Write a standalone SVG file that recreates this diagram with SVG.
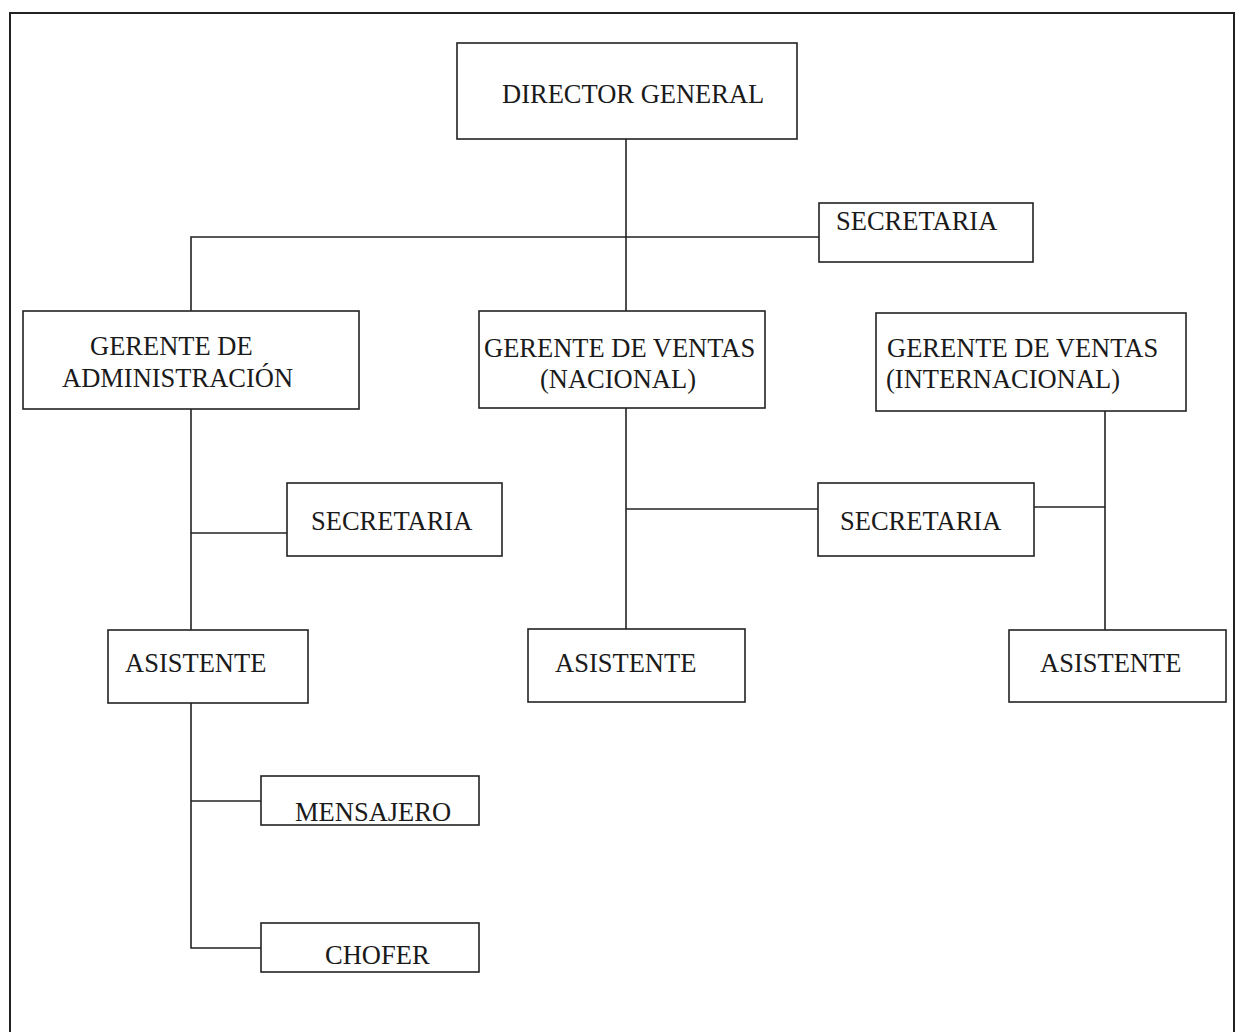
<svg xmlns="http://www.w3.org/2000/svg" width="1235" height="1032" viewBox="0 0 1235 1032">
<style>
.box{fill:#fff;stroke:#222;stroke-width:1.6}
.ln{fill:none;stroke:#222;stroke-width:1.6}
text{font-family:"Liberation Serif","Times New Roman",serif;font-size:26.5px;fill:#1a1a1a}
</style>
<rect width="1235" height="1032" fill="#fff"/>
<path d="M10 1040 V13 H1234 V1040" fill="none" stroke="#222" stroke-width="2"/>
<g id="connectors" class="ln">
<path d="M626 139 V311"/>
<path d="M191 311 V237 H819"/>
<path d="M191 409 V630"/>
<path d="M191 533 H287"/>
<path d="M626 408 V629"/>
<path d="M626 509 H818"/>
<path d="M1034 507 H1105"/>
<path d="M1105 411 V630"/>
<path d="M191 703 V948 H261"/>
<path d="M191 801 H261"/>
</g>
<g id="director"><rect class="box" x="457" y="43" width="340" height="96"/><text x="502" y="103">DIRECTOR GENERAL</text></g>
<g id="secretaria-dg"><rect class="box" x="819" y="203" width="214" height="59"/><text x="836" y="230">SECRETARIA</text></g>
<g id="gerente-admin"><rect class="box" x="23" y="311" width="336" height="98"/><text x="90" y="355">GERENTE DE</text><text x="62" y="387">ADMINISTRACIÓN</text></g>
<g id="gerente-nacional"><rect class="box" x="479" y="311" width="286" height="97"/><text x="484" y="357">GERENTE DE VENTAS</text><text x="540" y="388">(NACIONAL)</text></g>
<g id="gerente-internacional"><rect class="box" x="876" y="313" width="310" height="98"/><text x="887" y="357">GERENTE DE VENTAS</text><text x="886" y="388">(INTERNACIONAL)</text></g>
<g id="secretaria-admin"><rect class="box" x="287" y="483" width="215" height="73"/><text x="311" y="530">SECRETARIA</text></g>
<g id="secretaria-ventas"><rect class="box" x="818" y="483" width="216" height="73"/><text x="840" y="530">SECRETARIA</text></g>
<g id="asistente-admin"><rect class="box" x="108" y="630" width="200" height="73"/><text x="125" y="672">ASISTENTE</text></g>
<g id="asistente-nacional"><rect class="box" x="528" y="629" width="217" height="73"/><text x="555" y="672">ASISTENTE</text></g>
<g id="asistente-internacional"><rect class="box" x="1009" y="630" width="217" height="72"/><text x="1040" y="672">ASISTENTE</text></g>
<g id="mensajero"><rect class="box" x="261" y="776" width="218" height="49"/><text x="295" y="821">MENSAJERO</text></g>
<g id="chofer"><rect class="box" x="261" y="923" width="218" height="49"/><text x="325" y="964">CHOFER</text></g>
</svg>
